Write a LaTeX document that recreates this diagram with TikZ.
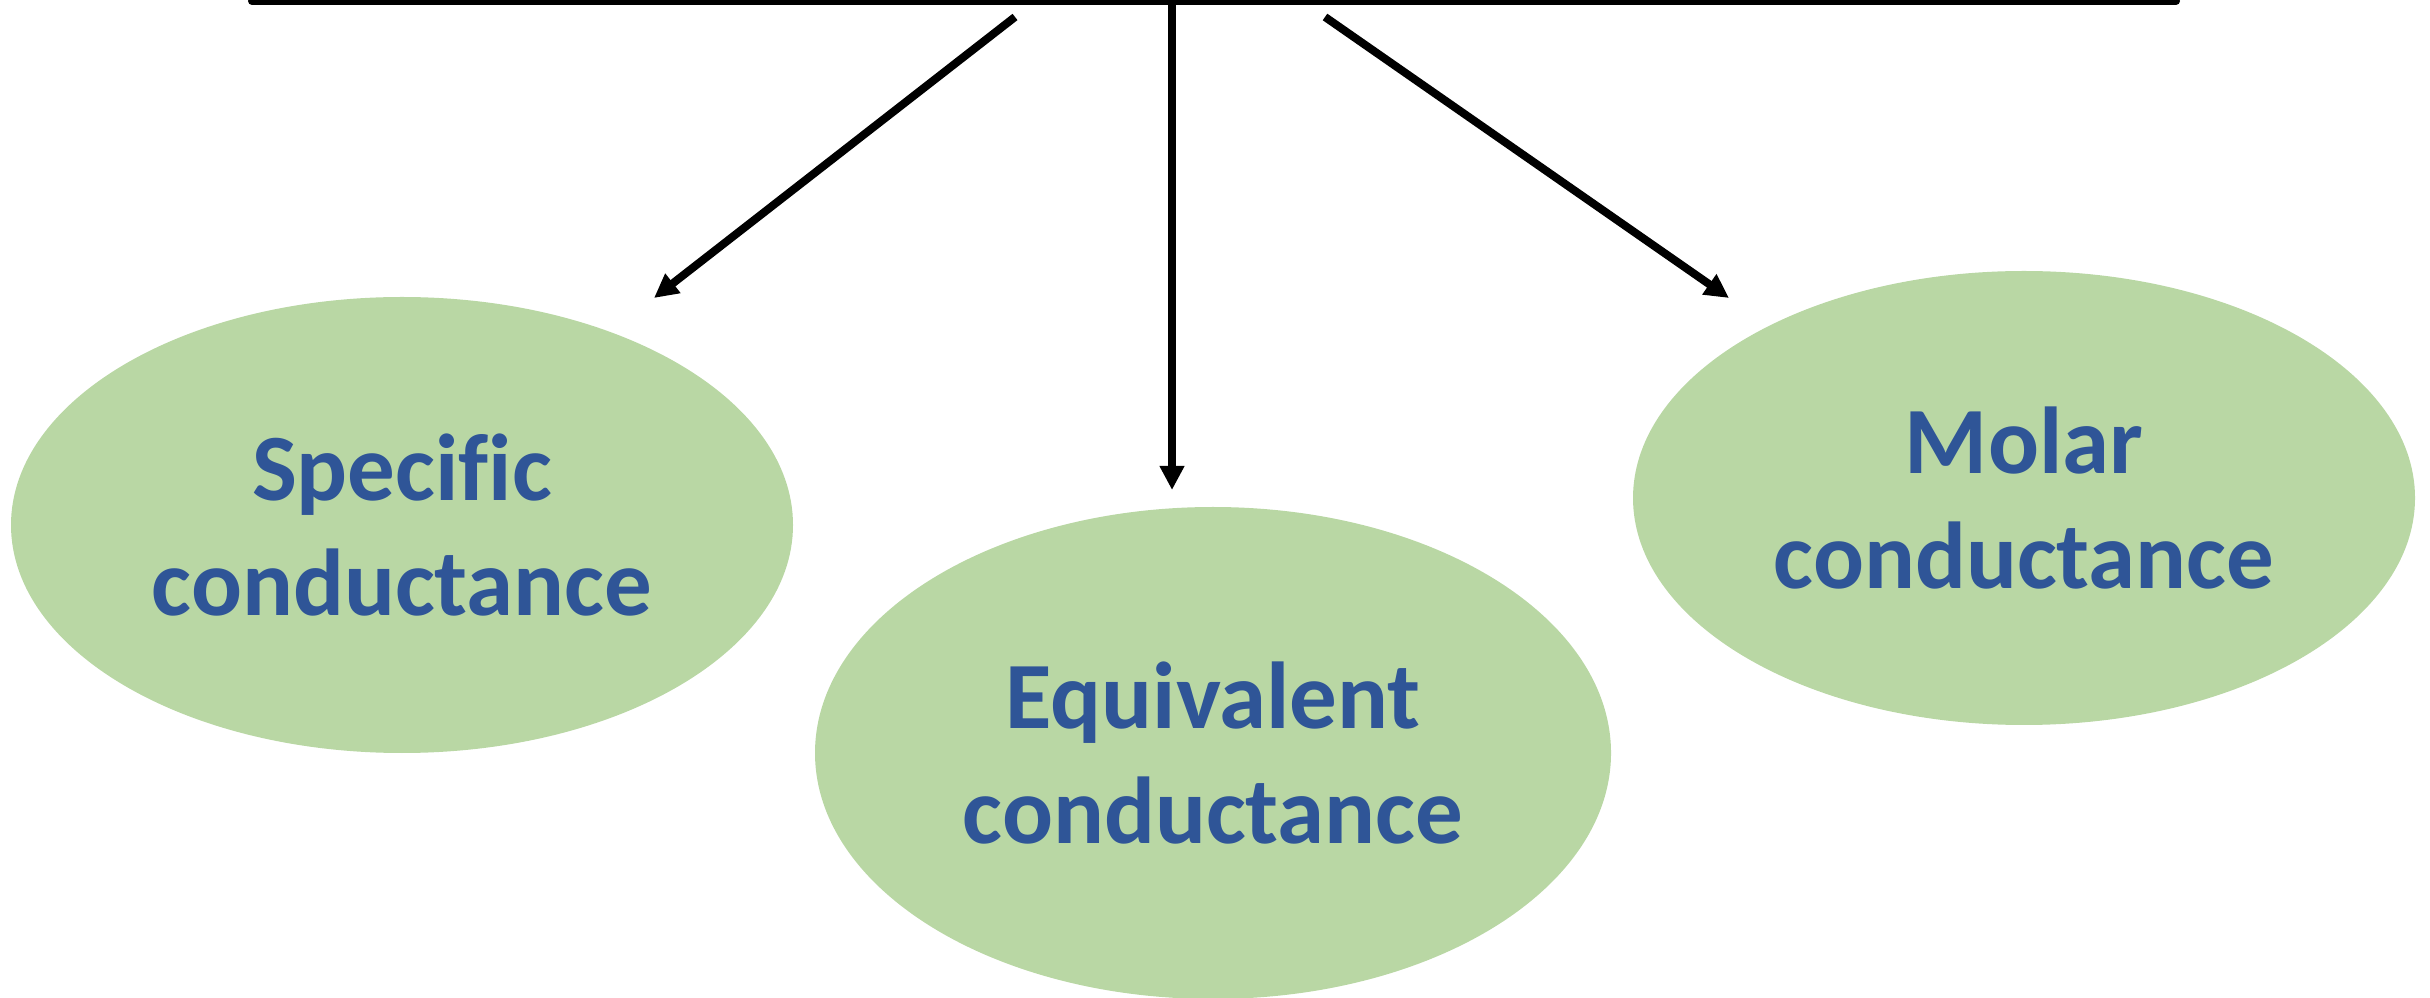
\documentclass[tikz,border=0pt]{standalone}
\usepackage{fontspec}
\setmainfont{Carlito}[Ligatures=NoCommon]
\usetikzlibrary{shapes.geometric,arrows.meta}
\definecolor{ovalgreen}{RGB}{185,215,164}
\definecolor{textblue}{RGB}{47,85,151}
\tikzset{
  oval/.style={ellipse, fill=ovalgreen, draw=none, inner sep=0pt, align=center,
    text=textblue, font=\fontsize{28.5pt}{34.5pt}\selectfont\bfseries},
  conn/.style={line width=2.4pt, draw=black, -{Triangle[length=7.2pt,width=7pt]}},
  bar/.style={line width=2.4pt, draw=black, line cap=round}
}
\begin{document}
\begin{tikzpicture}[x=0.3pt,y=-0.3pt]
\useasboundingbox (0,0) rectangle (2430,998);
\clip (0,0) rectangle (2430,998);
% ovals
\node[oval, minimum width=782*0.3pt, minimum height=456*0.3pt] (spec) at (402,525) {Specific\\conductance};
\node[oval, minimum width=796*0.3pt, minimum height=492*0.3pt] (equiv) at (1213,753) {Equivalent\\conductance};
\node[oval, minimum width=782*0.3pt, minimum height=454*0.3pt] (molar) at (2024,498) {Molar\\conductance};
% top bar
\coordinate (barL) at (252,1);
\coordinate (barR) at (2176,1);
\draw[bar] (barL) -- (barR);
% connectors
\coordinate (sL) at (1015,17);
\coordinate (tL) at (654,298);
\coordinate (sM) at (1172,0);
\coordinate (tM) at (1172,490);
\coordinate (sR) at (1325,17);
\coordinate (tR) at (1729,298);
\draw[conn] (sL) -- (tL);
\draw[conn] (sM) -- (tM);
\draw[conn] (sR) -- (tR);
\end{tikzpicture}
\end{document}
